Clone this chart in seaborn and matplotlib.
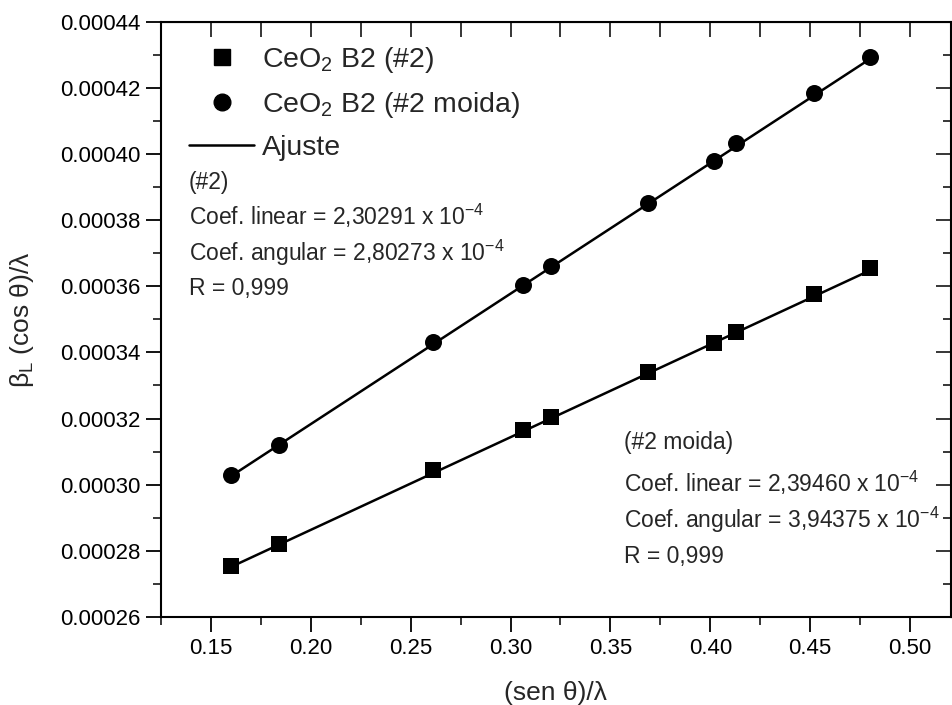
import numpy as np
import pandas as pd
import matplotlib
matplotlib.use("Agg")
import matplotlib.pyplot as plt
import seaborn as sns
from matplotlib.lines import Line2D
from matplotlib.ticker import MultipleLocator

# Williamson-Hall data: (sen θ)/λ vs β_L (cos θ)/λ
sen_theta = [0.160, 0.184, 0.261, 0.306, 0.320, 0.369, 0.402, 0.413, 0.452, 0.480]
beta_2 = [0.0002755, 0.000282, 0.0003045, 0.0003165, 0.0003205,
          0.000334, 0.000343, 0.0003462, 0.0003576, 0.0003656]
beta_2_moida = [0.0003030, 0.0003120, 0.0003433, 0.0003605, 0.000366,
                0.0003853, 0.000398, 0.0004032, 0.0004183, 0.0004292]

# Linear fit coefficients (intercept, slope)
fit_2 = (2.30291e-4, 2.80273e-4)
fit_2_moida = (2.39460e-4, 3.94375e-4)

x_ticks = [0.15, 0.20, 0.25, 0.30, 0.35, 0.40, 0.45, 0.50]
y_ticks = [0.00026, 0.00028, 0.00030, 0.00032, 0.00034, 0.00036, 0.00038, 0.00040, 0.00042, 0.00044]

sns.set_style("ticks")
plt.rcParams["font.family"] = ["Liberation Sans", "DejaVu Sans"]
plt.rcParams["mathtext.fontset"] = "custom"
plt.rcParams["mathtext.rm"] = "Liberation Sans"
plt.rcParams["mathtext.it"] = "Liberation Sans:italic"
plt.rcParams["mathtext.bf"] = "Liberation Sans:bold"

df = pd.DataFrame({
    "x": sen_theta * 2,
    "y": beta_2 + beta_2_moida,
    "amostra": ["#2"] * len(sen_theta) + ["#2 moida"] * len(sen_theta),
})

fig = plt.figure(figsize=(9.52, 7.05), dpi=100)
ax = fig.add_axes([161 / 952, 1 - 617 / 705, (951 - 161) / 952, (617 - 21.7) / 705])

# fitted lines over the measured range
xs = np.array([min(sen_theta), max(sen_theta)])
for b0, b1 in (fit_2, fit_2_moida):
    sns.lineplot(x=xs, y=b0 + b1 * xs, ax=ax, color="black", lw=1.8, zorder=2)

sns.scatterplot(data=df[df.amostra == "#2"], x="x", y="y", ax=ax, marker="s",
                s=125, color="black", edgecolor="black", linewidth=0, zorder=3)
sns.scatterplot(data=df[df.amostra == "#2 moida"], x="x", y="y", ax=ax, marker="o",
                s=150, color="black", edgecolor="black", linewidth=0, zorder=3)

ax.set_xlim(0.125, 0.5205)
ax.set_ylim(0.00026, 0.00044)
ax.set_xticks(x_ticks)
ax.set_yticks(y_ticks)
ax.set_xticklabels([f"{v:.2f}" for v in x_ticks])
ax.set_yticklabels([f"{v:.5f}" for v in y_ticks])
ax.xaxis.set_minor_locator(MultipleLocator(0.025))
ax.yaxis.set_minor_locator(MultipleLocator(0.00001))

for s in ax.spines.values():
    s.set_linewidth(1.5)
    s.set_color("black")

ax.tick_params(axis="both", which="major", direction="out", length=11, width=1.3,
               labelsize=16, colors="black", pad=4)
ax.tick_params(axis="both", which="minor", direction="out", length=6, width=1.3)

# inward ticks on the top and right axes
sec_x = ax.secondary_xaxis("top")
sec_x.set_xticks(x_ticks)
sec_x.xaxis.set_minor_locator(MultipleLocator(0.025))
sec_x.tick_params(which="both", direction="in", length=11, width=1.3, labeltop=False)
sec_y = ax.secondary_yaxis("right")
sec_y.set_yticks(y_ticks)
sec_y.yaxis.set_minor_locator(MultipleLocator(0.00001))
sec_y.tick_params(which="major", direction="in", length=11, width=1.3, labelright=False)
sec_y.tick_params(which="minor", direction="in", length=6, width=1.3, labelright=False)

ax.set_xlabel("(sen θ)/λ", fontsize=19, labelpad=16)
ax.set_ylabel(r"β$_{\mathrm{L}}$ (cos θ)/λ", fontsize=19, labelpad=17)

handles = [
    Line2D([], [], marker="s", color="black", linestyle="none", markersize=11),
    Line2D([], [], marker="o", color="black", linestyle="none", markersize=12),
    Line2D([], [], color="black", lw=1.8),
]
labels = [r"CeO$_2$ B2 (#2)", r"CeO$_2$ B2 (#2 moida)", "Ajuste"]
ax.legend(handles, labels, loc="upper left", bbox_to_anchor=((189 - 161) / 790, (617 - 45) / 595.3),
          frameon=False, fontsize=20.5, handlelength=2.3, handletextpad=0.25,
          labelspacing=0.52, borderaxespad=0, borderpad=0)

txt_kw = dict(transform=ax.transAxes, fontsize=16.5, ha="left", va="center")
def ax_pt(px, py):
    return ((px - 161) / 790, (617 - py) / (617 - 21.7))

ax.text(*ax_pt(189, 183), "(#2)", **txt_kw)
ax.text(*ax_pt(189, 216), r"Coef. linear = 2,30291 x 10$^{-4}$", **txt_kw)
ax.text(*ax_pt(189, 253), r"Coef. angular = 2,80273 x 10$^{-4}$", **txt_kw)
ax.text(*ax_pt(189, 288), "R = 0,999", **txt_kw)

ax.text(*ax_pt(624, 443), "(#2 moida)", **txt_kw)
ax.text(*ax_pt(624, 483), r"Coef. linear = 2,39460 x 10$^{-4}$", **txt_kw)
ax.text(*ax_pt(624, 520), r"Coef. angular = 3,94375 x 10$^{-4}$", **txt_kw)
ax.text(*ax_pt(624, 557), "R = 0,999", **txt_kw)

fig.savefig("out.png", dpi=100)
